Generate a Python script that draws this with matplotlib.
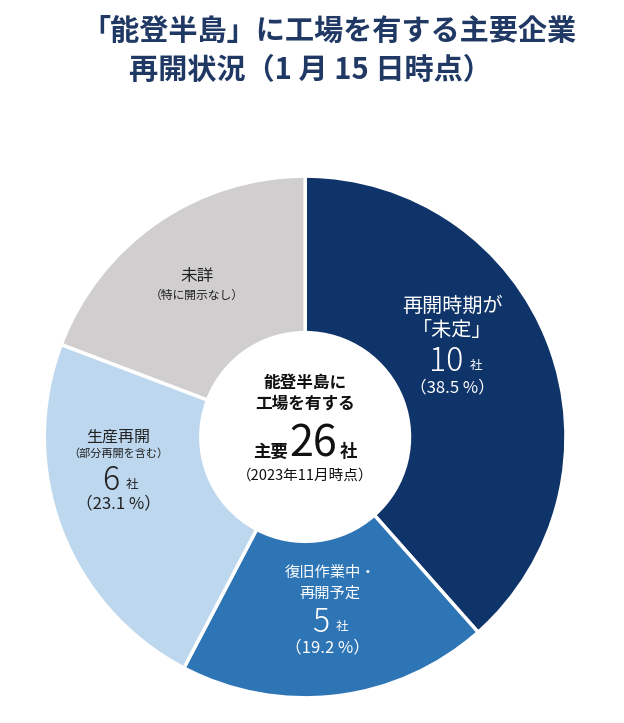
import matplotlib
matplotlib.use("Agg")
import matplotlib.pyplot as plt

plt.rcParams['font.family'] = ['Noto Sans CJK JP', 'DejaVu Sans']

# データ（1月15日時点）
labels = ["再開時期が\n「未定」", "復旧作業中・\n再開予定", "生産再開", "未詳"]
sublabels = ["", "", "（部分再開を含む）", "（特に開示なし）"]
counts = [10, 5, 6, 5]
percents = ["（38.5 %）", "（19.2 %）", "（23.1 %）", ""]
colors = ["#0f3469", "#2e75b6", "#bdd7ee", "#d0cecf"]
total = 26

fig = plt.figure(figsize=(6.24, 7.23), dpi=100)
ax = fig.add_axes([0.489 - 0.418, 0.3956 - 0.361, 0.836, 0.722])

ax.pie(counts, colors=colors, startangle=90, counterclock=False, radius=1,
       wedgeprops=dict(width=0.6, edgecolor="white", linewidth=2.5))
ax.set_xlim(-1, 1)
ax.set_ylim(-1, 1)
ax.set_aspect("equal")
ax.axis("off")


def px(x, y):
    # pixel position of the reference -> data coords
    return (x - 305) / 261, (437 - y) / 261


def count_label(x, y, n, color, size=23):
    t = ax.text(*px(x, y), str(n), ha="center", va="center", color=color,
                fontsize=size, fontweight="light")
    ax.annotate("社", xy=(1, 0.22), xycoords=t, xytext=(5, 0),
                textcoords="offset points", ha="left", va="bottom",
                color=color, fontsize=9)


# 再開時期が「未定」
ax.text(*px(452, 318), labels[0], ha="center", va="center", color="white",
        fontsize=14.5, linespacing=1.2)
count_label(446, 362, counts[0], "white")
ax.text(*px(452, 388), percents[0], ha="center", va="center", color="white", fontsize=12)

# 復旧作業中・再開予定
ax.text(*px(330, 583), labels[1], ha="center", va="center", color="white",
        fontsize=11, linespacing=1.25)
count_label(320, 623, counts[1], "white")
ax.text(*px(327, 648), percents[1], ha="center", va="center", color="white", fontsize=12)

# 生産再開
ax.text(*px(118, 437), labels[2], ha="center", va="center", color="#222222", fontsize=11.5)
ax.text(*px(118, 454), sublabels[2], ha="center", va="center", color="#222222", fontsize=8)
count_label(110, 481, counts[2], "#222222")
ax.text(*px(118, 504), percents[2], ha="center", va="center", color="#222222", fontsize=12)

# 未詳
ax.text(*px(197, 276), labels[3], ha="center", va="center", color="#222222", fontsize=12)
ax.text(*px(197, 295), sublabels[3], ha="center", va="center", color="#222222", fontsize=8.5)

# 中央
ax.text(*px(305, 383), "能登半島に", ha="center", va="center", color="#111111",
        fontsize=12, fontweight="bold")
ax.text(*px(305, 404), "工場を有する", ha="center", va="center", color="#111111",
        fontsize=12, fontweight="bold")
ax.text(*px(288, 457), "主要", ha="right", va="baseline", color="#111111",
        fontsize=12.5, fontweight="bold")
ax.text(*px(289, 457), str(total), ha="left", va="baseline", color="#111111",
        fontsize=31)
ax.text(*px(340, 457), "社", ha="left", va="baseline", color="#111111",
        fontsize=12.5, fontweight="bold")
ax.text(*px(305, 476), "（2023年11月時点）", ha="center", va="center", color="#111111",
        fontsize=10.5)

# タイトル
fig.text(0.527, 0.958, "「能登半島」に工場を有する主要企業", ha="center", va="center",
         color="#1f3864", fontsize=21, fontweight="bold")
fig.text(0.497, 0.903, "再開状況（1 月 15 日時点）", ha="center", va="center",
         color="#1f3864", fontsize=21, fontweight="bold")

fig.savefig("out.png", dpi=100)
